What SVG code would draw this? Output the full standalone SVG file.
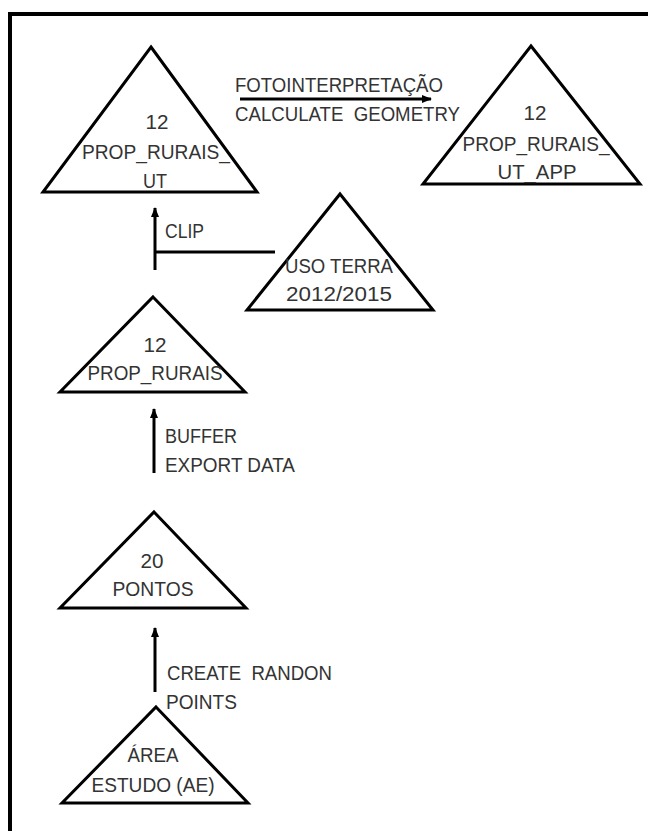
<svg xmlns="http://www.w3.org/2000/svg" width="648" height="831" viewBox="0 0 648 831">
  <style>
    .tri { fill: #ffffff; stroke: #000000; stroke-width: 3; stroke-linejoin: miter; }
    .lbl { font-family: "Liberation Sans", Arial, sans-serif; font-size: 20.5px; fill: #333333; }
    .mid { text-anchor: middle; }
    .edge { fill: none; stroke: #000000; stroke-width: 3; }
  </style>
  <defs>
    <marker id="head" viewBox="0 0 10 8" refX="9" refY="4" markerWidth="10" markerHeight="8" markerUnits="userSpaceOnUse" orient="auto">
      <path d="M0,0 L10,4 L0,8 Z" fill="#000000"/>
    </marker>
  </defs>

  <rect x="0" y="0" width="648" height="831" fill="#ffffff"/>
  <!-- frame: left and top edges only -->
  <path d="M10,831 V14 H648" fill="none" stroke="#000000" stroke-width="4"/>

  <g id="connectors">
    <line class="edge" x1="240" y1="99" x2="431" y2="99" marker-end="url(#head)"/>
    <path class="edge" d="M155,270 V208" marker-end="url(#head)"/>
    <line class="edge" x1="155" y1="252" x2="275" y2="252"/>
    <path class="edge" d="M154,473 V409" marker-end="url(#head)"/>
    <path class="edge" d="M155,692 V628" marker-end="url(#head)"/>
  </g>

  <g id="edge-labels">
    <text class="lbl" x="235" y="92" textLength="208" lengthAdjust="spacingAndGlyphs">FOTOINTERPRETAÇÃO</text>
    <text class="lbl" x="235" y="121" xml:space="preserve" textLength="225" lengthAdjust="spacingAndGlyphs">CALCULATE  GEOMETRY</text>
    <text class="lbl" x="165" y="238" textLength="39" lengthAdjust="spacingAndGlyphs">CLIP</text>
    <text class="lbl" x="165" y="443" textLength="72" lengthAdjust="spacingAndGlyphs">BUFFER</text>
    <text class="lbl" x="165" y="472" textLength="130" lengthAdjust="spacingAndGlyphs">EXPORT DATA</text>
    <text class="lbl" x="167" y="680" xml:space="preserve" textLength="165" lengthAdjust="spacingAndGlyphs">CREATE  RANDON</text>
    <text class="lbl" x="166" y="709" textLength="71" lengthAdjust="spacingAndGlyphs">POINTS</text>
  </g>

  <g id="prop-rurais-ut">
    <polygon class="tri" points="151,47 257,192 43,192"/>
    <text class="lbl mid" x="157" y="129" textLength="23" lengthAdjust="spacingAndGlyphs">12</text>
    <text class="lbl mid" x="156" y="159" textLength="148" lengthAdjust="spacingAndGlyphs">PROP_RURAIS_</text>
    <text class="lbl mid" x="155" y="188" textLength="24" lengthAdjust="spacingAndGlyphs">UT</text>
  </g>

  <g id="prop-rurais-ut-app">
    <polygon class="tri" points="531,46 640,184 423,184"/>
    <text class="lbl mid" x="535" y="120" textLength="23" lengthAdjust="spacingAndGlyphs">12</text>
    <text class="lbl mid" x="536" y="151" textLength="147" lengthAdjust="spacingAndGlyphs">PROP_RURAIS_</text>
    <text class="lbl mid" x="537" y="179" textLength="79" lengthAdjust="spacingAndGlyphs">UT_APP</text>
  </g>

  <g id="uso-terra">
    <polygon class="tri" points="340,194 433,310 247,310"/>
    <text class="lbl mid" x="339" y="273" textLength="108" lengthAdjust="spacingAndGlyphs">USO TERRA</text>
    <text class="lbl mid" x="339" y="301" textLength="106" lengthAdjust="spacingAndGlyphs">2012/2015</text>
  </g>

  <g id="prop-rurais">
    <polygon class="tri" points="153,297 245,392 60,392"/>
    <text class="lbl mid" x="155" y="352" textLength="23" lengthAdjust="spacingAndGlyphs">12</text>
    <text class="lbl mid" x="155" y="380" textLength="135" lengthAdjust="spacingAndGlyphs">PROP_RURAIS</text>
  </g>

  <g id="pontos">
    <polygon class="tri" points="154,512 246,608 60,608"/>
    <text class="lbl mid" x="152" y="568" textLength="23" lengthAdjust="spacingAndGlyphs">20</text>
    <text class="lbl mid" x="153" y="596" textLength="81" lengthAdjust="spacingAndGlyphs">PONTOS</text>
  </g>

  <g id="area-estudo">
    <polygon class="tri" points="156,707 248,803 62,803"/>
    <text class="lbl mid" x="153" y="762" textLength="51" lengthAdjust="spacingAndGlyphs">ÁREA</text>
    <text class="lbl mid" x="153" y="792" textLength="123" lengthAdjust="spacingAndGlyphs">ESTUDO (AE)</text>
  </g>
</svg>
